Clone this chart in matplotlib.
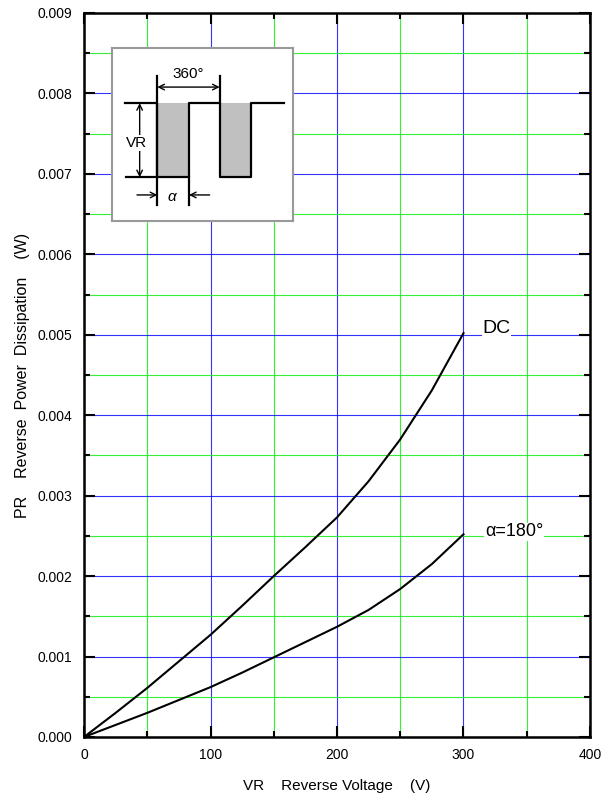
import numpy as np
import matplotlib
matplotlib.use('Agg')
import matplotlib.pyplot as plt
from matplotlib.ticker import MultipleLocator, FormatStrFormatter

plt.rcParams['font.family'] = ['Liberation Sans', 'DejaVu Sans']

# Reverse voltage (V) and reverse power dissipation (W)
vr = [0, 25, 50, 75, 100, 125, 150, 175, 200, 225, 250, 275, 300]
pr_dc = [0, 0.00030, 0.00061, 0.00094, 0.00127, 0.00163, 0.00200, 0.00236,
         0.00273, 0.00318, 0.00370, 0.00431, 0.00502]
pr_180 = [0, 0.00015, 0.00030, 0.00046, 0.00062, 0.00080, 0.00099, 0.00118,
          0.00137, 0.00158, 0.00184, 0.00215, 0.00252]

curve_labels = ['DC', '\u03b1=180\u00b0']

fig = plt.figure(figsize=(6.12, 7.96), dpi=100)
ax = fig.add_axes([84/612, 59/796, 506/612, 724/796])

ax.plot(vr, pr_dc, color='black', lw=1.5, zorder=3)
ax.plot(vr, pr_180, color='black', lw=1.5, zorder=3)

ax.set_xlim(0, 400)
ax.set_ylim(0, 0.009)
ax.xaxis.set_major_locator(MultipleLocator(100))
ax.xaxis.set_minor_locator(MultipleLocator(50))
ax.yaxis.set_major_locator(MultipleLocator(0.001))
ax.yaxis.set_minor_locator(MultipleLocator(0.0005))
ax.yaxis.set_major_formatter(FormatStrFormatter('%.3f'))

ax.grid(True, which='major', color='#0000ff', lw=0.8, alpha=0.8)
ax.grid(True, which='minor', color='#22ee22', lw=0.8, alpha=0.9)
ax.set_axisbelow(True)

ax.tick_params(which='both', direction='in', top=True, right=True,
               width=1.5, labelsize=10)
ax.tick_params(which='major', length=8)
ax.tick_params(which='minor', length=4.3)
ax.tick_params(axis='y', pad=8.5)
ax.tick_params(axis='x', pad=8)
for sp in ax.spines.values():
    sp.set_linewidth(1.8)

ax.set_xlabel('VR    Reverse Voltage    (V)', fontsize=11, labelpad=12)
ax.set_ylabel('PR    Reverse  Power  Dissipation    (W)', fontsize=11.5, labelpad=5)

ax.text(315, pr_dc[-1] + 0.00006, curve_labels[0], fontsize=14, ha='left', va='center',
        bbox=dict(facecolor='white', edgecolor='none', pad=0.5), zorder=4)
ax.text(317, pr_180[-1] + 0.00003, curve_labels[1], fontsize=13, ha='left', va='center',
        bbox=dict(facecolor='white', edgecolor='none', pad=0.5), zorder=4)

# Inset waveform schematic
ins = fig.add_axes([112/612, 1 - 221/796, 181/612, 173/796])
ins.set_xlim(97, 640)
ins.set_ylim(663, 145)
ins.set_xticks([])
ins.set_yticks([])
for sp in ins.spines.values():
    sp.set_color('#999999')
    sp.set_linewidth(1.5)

hi, lo = 310, 532
for x0, x1 in [(233, 328), (420, 515)]:
    ins.fill_between([x0, x1], hi, lo, color='#c0c0c0', lw=0)
wave_x = [137, 233, 233, 328, 328, 420, 420, 515, 515, 612]
wave_y = [hi, hi, lo, lo, hi, hi, lo, lo, hi, hi]
ins.plot(wave_x, wave_y, color='black', lw=1.6)
ins.plot([140, 233], [lo, lo], color='black', lw=1.6)
ins.plot([233, 233], [230, 615], color='black', lw=1.6)
ins.plot([328, 328], [lo, 615], color='black', lw=1.6)
ins.plot([420, 420], [230, hi], color='black', lw=1.6)

arrow = dict(arrowstyle='<->', lw=1, color='black', shrinkA=0, shrinkB=0, mutation_scale=10)
ins.annotate('', xy=(233, 262), xytext=(420, 262), arrowprops=arrow)
ins.annotate('', xy=(180, hi), xytext=(180, lo), arrowprops=arrow)
one = dict(arrowstyle='->', lw=1, color='black', shrinkA=0, shrinkB=0, mutation_scale=10)
ins.annotate('', xy=(233, 585), xytext=(172, 585), arrowprops=one)
ins.annotate('', xy=(328, 585), xytext=(390, 585), arrowprops=one)

ins.text(325, 222, '360\u00b0', fontsize=11, ha='center', va='center')
ins.text(172, 430, 'VR', fontsize=11, ha='center', va='center',
         bbox=dict(facecolor='white', edgecolor='none', pad=0.5))
ins.text(278, 590, '\u03b1', fontsize=11, style='italic', ha='center', va='center')

fig.savefig('out.png', dpi=100)
